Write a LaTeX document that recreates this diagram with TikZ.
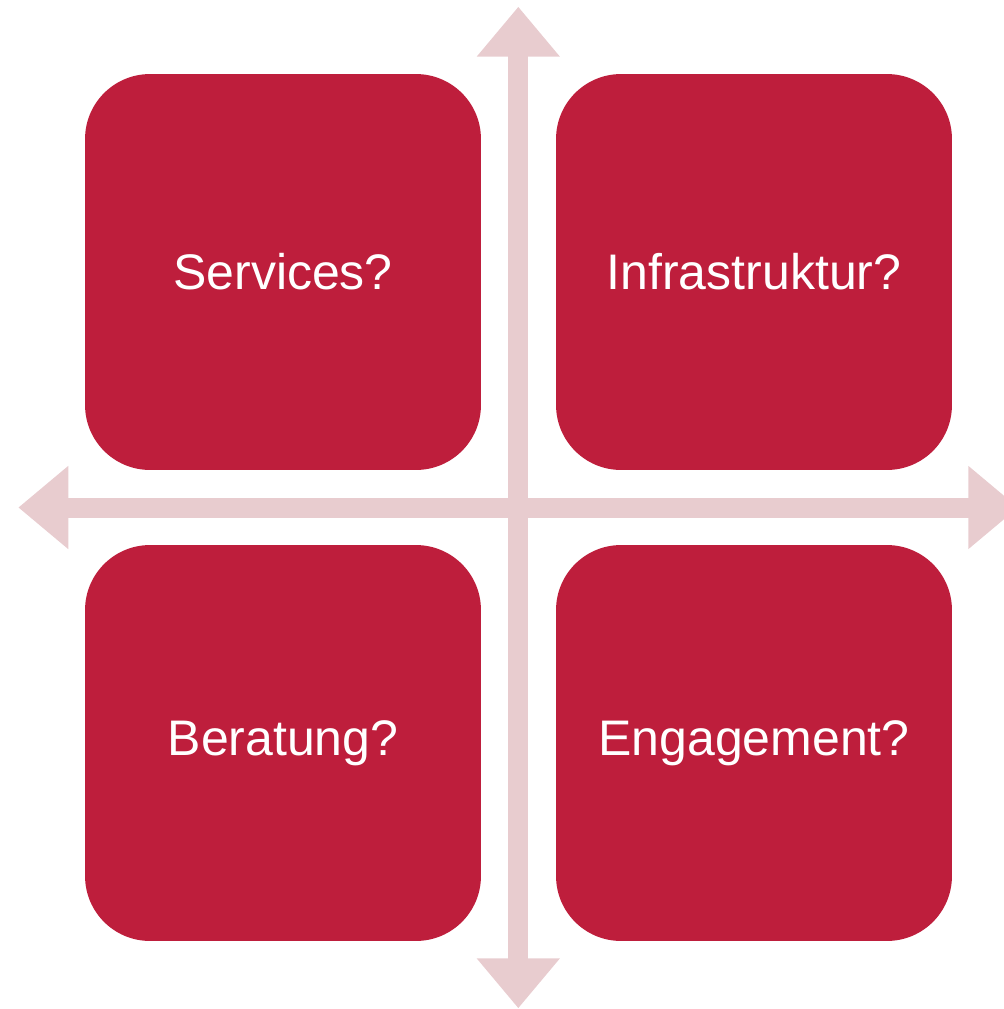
\documentclass[tikz,border=0pt]{standalone}
\usepackage{fontspec}
\setmainfont{Liberation Sans}
\usetikzlibrary{arrows.meta}
\definecolor{boxred}{HTML}{BE1E3C}
\definecolor{axispink}{HTML}{E8CCCF}
\newcommand{\quadfont}{\fontsize{28.45pt}{34pt}\selectfont}
\begin{document}
\begin{tikzpicture}
  [x=0.02cm,y=-0.02cm,
   quad/.style={rectangle,rounded corners=1.3cm,fill=boxred,text=white,
     minimum width=7.92cm,minimum height=7.92cm,inner sep=0pt,font=\quadfont},
   axis/.style={draw=axispink,line width=0.4cm,
     {Triangle[length=1cm,width=1.6cm]}-{Triangle[length=1cm,width=1.6cm]}}]

  \clip (0,0) rectangle (1004,1009);

  \coordinate (T) at (518.3,6.7);
  \coordinate (D) at (518.3,1008.3);
  \coordinate (L) at (18.3,507.5);
  \coordinate (R) at (1018.3,507.5);

  \foreach \from/\to in {T/D,L/R}
    \draw [axis] (\from) -- (\to);

  \node [quad] (S) at (283,272) {Services?};
  \node [quad] (I) at (754,272) {Infrastruktur?};
  \node [quad] (B) at (283,743) {Beratung?};
  \node [quad] (E) at (754,743) {Engagement?};
\end{tikzpicture}
\end{document}
